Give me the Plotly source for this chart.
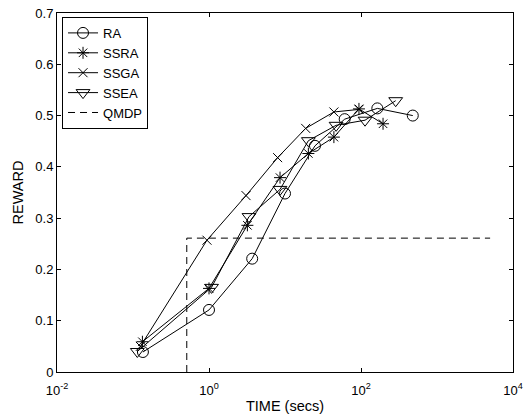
import plotly.graph_objects as go

# Data
ra_time = [0.135, 1.0, 3.7, 10.0, 24.8, 61.0, 164.0, 480.0]
ra_reward = [0.039, 0.121, 0.221, 0.348, 0.441, 0.493, 0.514, 0.500]

ssra_time = [0.133, 1.0, 3.2, 8.6, 20.3, 44.0, 94.0, 195.0]
ssra_reward = [0.059, 0.163, 0.286, 0.379, 0.426, 0.458, 0.513, 0.484]

ssga_time = [0.125, 0.94, 3.07, 8.0, 18.7, 44.0, 94.0]
ssga_reward = [0.050, 0.257, 0.344, 0.418, 0.475, 0.507, 0.512]

ssea_time = [0.114, 1.08, 3.36, 8.6, 20.3, 47.0, 113.0, 286.0]
ssea_reward = [0.040, 0.165, 0.303, 0.356, 0.451, 0.481, 0.491, 0.529]

qmdp_time = [0.51, 0.51, 5000.0]
qmdp_reward = [0.0, 0.261, 0.261]

x_tickvals = [0.01, 1, 100, 10000]
x_ticktext = ["10<sup>-2</sup>", "10<sup>0</sup>", "10<sup>2</sup>", "10<sup>4</sup>"]
y_tickvals = [0, 0.1, 0.2, 0.3, 0.4, 0.5, 0.6, 0.7]
y_ticktext = ["0", "0.1", "0.2", "0.3", "0.4", "0.5", "0.6", "0.7"]

FONT = "Liberation Sans, Arial, Helvetica, sans-serif"
line = dict(color="black", width=1)

fig = go.Figure()
fig.add_trace(go.Scatter(x=ra_time, y=ra_reward, name="RA", mode="lines+markers",
                         line=line,
                         marker=dict(symbol="circle-open", size=11, color="black", line=dict(width=1))))
fig.add_trace(go.Scatter(x=ssra_time, y=ssra_reward, name="SSRA", mode="lines+markers",
                         line=line,
                         marker=dict(symbol="asterisk-open", size=10, color="black", line=dict(width=1))))
fig.add_trace(go.Scatter(x=ssga_time, y=ssga_reward, name="SSGA", mode="lines+markers",
                         line=line,
                         marker=dict(symbol="x-thin-open", size=9, color="black", line=dict(width=1))))
fig.add_trace(go.Scatter(x=ssea_time, y=ssea_reward, name="SSEA", mode="lines+markers",
                         line=line,
                         marker=dict(symbol="triangle-down-open", size=12, color="black", line=dict(width=1))))
fig.add_trace(go.Scatter(x=qmdp_time, y=qmdp_reward, name="QMDP", mode="lines",
                         line=dict(color="black", width=1, dash="7px,5px")))

axis_common = dict(showline=True, linecolor="black", linewidth=1, mirror="ticks",
                   ticks="inside", ticklen=4, tickcolor="black", showgrid=False,
                   zeroline=False, automargin=False,
                   tickfont=dict(family=FONT, size=13, color="black"))

fig.update_xaxes(type="log", range=[-2, 4], tickvals=x_tickvals, ticktext=x_ticktext,
                 ticklabelstandoff=6,
                 title=dict(text="TIME (secs)", font=dict(family=FONT, size=14.5, color="black"), standoff=4),
                 **axis_common)
fig.update_yaxes(range=[0, 0.7], tickvals=y_tickvals, ticktext=y_ticktext,
                 title=dict(text="REWARD", font=dict(family=FONT, size=14.5, color="black"), standoff=8),
                 **axis_common)

fig.update_layout(
    width=527, height=419,
    margin=dict(l=57, r=14, t=13, b=47),
    paper_bgcolor="white", plot_bgcolor="white",
    font=dict(family=FONT, size=13, color="black"),
    legend=dict(x=0.011, y=0.989, xanchor="left", yanchor="top",
                bgcolor="white", bordercolor="black", borderwidth=1,
                font=dict(family=FONT, size=13, color="black"),
                tracegroupgap=0, itemwidth=30),
    showlegend=True,
)

fig.write_html("out.html", config={"displayModeBar": False},
               post_script="document.body.style.margin='0';document.body.style.padding='0';")
